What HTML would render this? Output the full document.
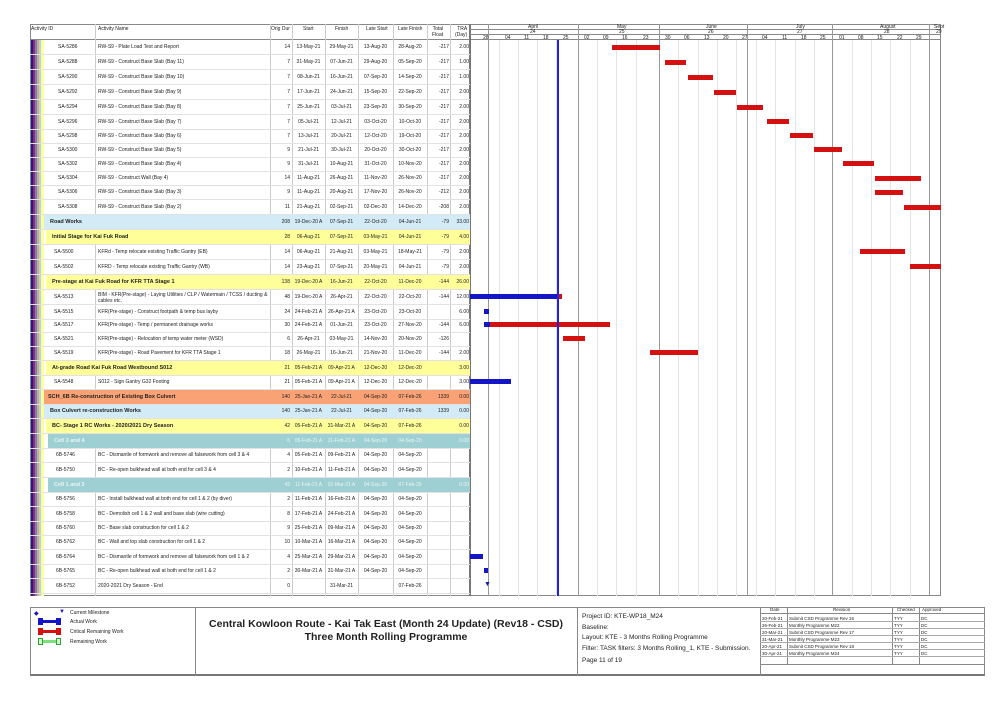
<!DOCTYPE html>
<html><head><meta charset="utf-8">
<style>
*{margin:0;padding:0;box-sizing:border-box}
body{width:1002px;height:709px;background:#fff;position:relative;overflow:hidden;font-family:"Liberation Sans",sans-serif;font-size:5px;color:#222}
.a{position:absolute}
.r{position:absolute;left:30px;width:440px;height:15px;border-bottom:1px solid #e2e2e2}
.r span{position:absolute;top:4px;white-space:nowrap}
.c0{left:28px}.c1{left:68px}
.c2{left:236px;width:24px;text-align:right}
.c3{left:262px;width:33px;text-align:center}
.c4{left:295px;width:33px;text-align:center}
.c5{left:328px;width:35px;text-align:center}
.c6{left:363px;width:34px;text-align:center}
.c7{left:397px;width:22px;text-align:right}
.c8{left:420px;width:19px;text-align:right}
.g .c0{left:20px;font-weight:bold;font-size:5.5px}
.vl{position:absolute;top:24px;height:572px;width:1px;background:#ccc}
.gl{position:absolute;top:40px;height:556px;width:1px;background:#e4e4e4}
.ml{position:absolute;top:24px;height:572px;width:1px;background:#999}
.bar{position:absolute;height:5px}
.red{background:#d41010}.blue{background:#1515c8}
.ft{position:absolute;white-space:nowrap}
</style></head><body>
<div class="a" style="left:30px;top:24px;width:911px;height:572px;border:1px solid #888"></div>
<div class="a" style="left:30px;top:39px;width:911px;height:1px;background:#888"></div>
<div class="ft" style="left:31px;top:26px">Activity ID</div>
<div class="ft" style="left:98px;top:26px">Activity Name</div>
<div class="ft" style="left:271px;top:26px">Orig Dur</div>
<div class="ft" style="left:303px;top:26px">Start</div>
<div class="ft" style="left:335px;top:26px">Finish</div>
<div class="ft" style="left:366px;top:26px">Late Start</div>
<div class="ft" style="left:398px;top:26px">Late Finish</div>
<div class="ft" style="left:432px;top:26px;text-align:right">Total<br>Float</div>
<div class="ft" style="left:455px;top:26px;text-align:right">TRA<br>(Day)</div>
<div class="vl" style="left:95px"></div><div class="vl" style="left:270px"></div><div class="vl" style="left:292px"></div><div class="vl" style="left:325px"></div><div class="vl" style="left:358px"></div><div class="vl" style="left:393px"></div><div class="vl" style="left:427px"></div><div class="vl" style="left:450px"></div>
<div class="a" style="left:469px;top:24px;width:2px;height:572px;background:#777"></div>
<div class="a" style="left:470px;top:29px;width:471px;height:1px;background:#888"></div>
<div class="a" style="left:470px;top:34px;width:471px;height:1px;background:#888"></div>
<div class="ft" style="left:528px;top:24px">April</div><div class="ft" style="left:530px;top:29px">24</div>
<div class="ft" style="left:617px;top:24px">May</div><div class="ft" style="left:619px;top:29px">25</div>
<div class="ft" style="left:706px;top:24px">June</div><div class="ft" style="left:708px;top:29px">26</div>
<div class="ft" style="left:796px;top:24px">July</div><div class="ft" style="left:797px;top:29px">27</div>
<div class="ft" style="left:880px;top:24px">August</div><div class="ft" style="left:884px;top:29px">28</div>
<div class="ft" style="left:934px;top:24px">Sept</div><div class="ft" style="left:936px;top:29px">29</div>
<div class="ml" style="left:488px"></div><div class="ml" style="left:578px"></div><div class="ml" style="left:659px"></div><div class="ml" style="left:747px"></div><div class="ml" style="left:832px"></div><div class="ml" style="left:929px"></div>
<div class="gl" style="left:499px"></div><div class="gl" style="left:518px"></div><div class="gl" style="left:537px"></div><div class="gl" style="left:556px"></div><div class="gl" style="left:597px"></div><div class="gl" style="left:616px"></div><div class="gl" style="left:636px"></div><div class="gl" style="left:678px"></div><div class="gl" style="left:698px"></div><div class="gl" style="left:717px"></div><div class="gl" style="left:736px"></div><div class="gl" style="left:756px"></div><div class="gl" style="left:775px"></div><div class="gl" style="left:795px"></div><div class="gl" style="left:814px"></div><div class="gl" style="left:852px"></div><div class="gl" style="left:871px"></div><div class="gl" style="left:890px"></div><div class="gl" style="left:910px"></div>
<div class="ft" style="left:483px;top:35px">28</div><div class="ft" style="left:505px;top:35px">04</div><div class="ft" style="left:524px;top:35px">11</div><div class="ft" style="left:543px;top:35px">18</div><div class="ft" style="left:563px;top:35px">25</div><div class="ft" style="left:584px;top:35px">02</div><div class="ft" style="left:603px;top:35px">09</div><div class="ft" style="left:622px;top:35px">16</div><div class="ft" style="left:643px;top:35px">23</div><div class="ft" style="left:665px;top:35px">30</div><div class="ft" style="left:684px;top:35px">06</div><div class="ft" style="left:704px;top:35px">13</div><div class="ft" style="left:723px;top:35px">20</div><div class="ft" style="left:742px;top:35px">27</div><div class="ft" style="left:762px;top:35px">04</div><div class="ft" style="left:782px;top:35px">11</div><div class="ft" style="left:801px;top:35px">18</div><div class="ft" style="left:820px;top:35px">25</div><div class="ft" style="left:839px;top:35px">01</div><div class="ft" style="left:858px;top:35px">08</div><div class="ft" style="left:877px;top:35px">15</div><div class="ft" style="left:897px;top:35px">22</div><div class="ft" style="left:916px;top:35px">29</div>

<div class="a" style="left:44px;top:215px;width:426px;height:15px;background:#d3ebf6"></div>
<div class="a" style="left:46px;top:230px;width:424px;height:15px;background:#ffff99"></div>
<div class="a" style="left:46px;top:275px;width:424px;height:15px;background:#ffff99"></div>
<div class="a" style="left:46px;top:361px;width:424px;height:14px;background:#ffff99"></div>
<div class="a" style="left:38px;top:390px;width:432px;height:14px;background:#f9a276"></div>
<div class="a" style="left:44px;top:404px;width:426px;height:14px;background:#d3ebf6"></div>
<div class="a" style="left:46px;top:419px;width:424px;height:14px;background:#ffff99"></div>
<div class="a" style="left:48px;top:434px;width:422px;height:14px;background:#9ecfd2"></div>
<div class="a" style="left:48px;top:478px;width:422px;height:14px;background:#9ecfd2"></div>
<div class="a" style="left:31px;top:40px;width:2px;height:556px;background:#1a1a9a"></div>
<div class="a" style="left:33px;top:40px;width:2px;height:556px;background:#b02050"></div>
<div class="a" style="left:35px;top:40px;width:2px;height:556px;background:#4a90e0"></div>
<div class="a" style="left:37px;top:40px;width:2px;height:556px;background:#f0a060"></div>
<div class="a" style="left:39px;top:40px;width:2px;height:556px;background:#a8d8ee"></div>
<div class="a" style="left:41px;top:40px;width:3px;height:556px;background:#ffff99"></div>

<div class="r" style="top:40px"><span class="c0">SA-5286</span><span class="c1">RW-S9 - Plate Load Test and Report</span><span class="c2">14</span><span class="c3">13-May-21</span><span class="c4">29-May-21</span><span class="c5">13-Aug-20</span><span class="c6">28-Aug-20</span><span class="c7">-217</span><span class="c8">2.00</span></div>
<div class="r" style="top:55px"><span class="c0">SA-5288</span><span class="c1">RW-S9 - Construct Base Slab (Bay 11)</span><span class="c2">7</span><span class="c3">31-May-21</span><span class="c4">07-Jun-21</span><span class="c5">29-Aug-20</span><span class="c6">05-Sep-20</span><span class="c7">-217</span><span class="c8">1.00</span></div>
<div class="r" style="top:70px"><span class="c0">SA-5290</span><span class="c1">RW-S9 - Construct Base Slab (Bay 10)</span><span class="c2">7</span><span class="c3">08-Jun-21</span><span class="c4">16-Jun-21</span><span class="c5">07-Sep-20</span><span class="c6">14-Sep-20</span><span class="c7">-217</span><span class="c8">1.00</span></div>
<div class="r" style="top:85px"><span class="c0">SA-5292</span><span class="c1">RW-S9 - Construct Base Slab (Bay 9)</span><span class="c2">7</span><span class="c3">17-Jun-21</span><span class="c4">24-Jun-21</span><span class="c5">15-Sep-20</span><span class="c6">22-Sep-20</span><span class="c7">-217</span><span class="c8">2.00</span></div>
<div class="r" style="top:100px"><span class="c0">SA-5294</span><span class="c1">RW-S9 - Construct Base Slab (Bay 8)</span><span class="c2">7</span><span class="c3">25-Jun-21</span><span class="c4">03-Jul-21</span><span class="c5">23-Sep-20</span><span class="c6">30-Sep-20</span><span class="c7">-217</span><span class="c8">2.00</span></div>
<div class="r" style="top:115px"><span class="c0">SA-5296</span><span class="c1">RW-S9 - Construct Base Slab (Bay 7)</span><span class="c2">7</span><span class="c3">05-Jul-21</span><span class="c4">12-Jul-21</span><span class="c5">03-Oct-20</span><span class="c6">10-Oct-20</span><span class="c7">-217</span><span class="c8">2.00</span></div>
<div class="r" style="top:129px"><span class="c0">SA-5298</span><span class="c1">RW-S9 - Construct Base Slab (Bay 6)</span><span class="c2">7</span><span class="c3">13-Jul-21</span><span class="c4">20-Jul-21</span><span class="c5">12-Oct-20</span><span class="c6">19-Oct-20</span><span class="c7">-217</span><span class="c8">2.00</span></div>
<div class="r" style="top:143px"><span class="c0">SA-5300</span><span class="c1">RW-S9 - Construct Base Slab (Bay 5)</span><span class="c2">9</span><span class="c3">21-Jul-21</span><span class="c4">30-Jul-21</span><span class="c5">20-Oct-20</span><span class="c6">30-Oct-20</span><span class="c7">-217</span><span class="c8">2.00</span></div>
<div class="r" style="top:157px"><span class="c0">SA-5302</span><span class="c1">RW-S9 - Construct Base Slab (Bay 4)</span><span class="c2">9</span><span class="c3">31-Jul-21</span><span class="c4">10-Aug-21</span><span class="c5">31-Oct-20</span><span class="c6">10-Nov-20</span><span class="c7">-217</span><span class="c8">2.00</span></div>
<div class="r" style="top:171px"><span class="c0">SA-5304</span><span class="c1">RW-S9 - Construct Wall (Bay 4)</span><span class="c2">14</span><span class="c3">11-Aug-21</span><span class="c4">26-Aug-21</span><span class="c5">11-Nov-20</span><span class="c6">26-Nov-20</span><span class="c7">-217</span><span class="c8">2.00</span></div>
<div class="r" style="top:185px"><span class="c0">SA-5306</span><span class="c1">RW-S9 - Construct Base Slab (Bay 3)</span><span class="c2">9</span><span class="c3">11-Aug-21</span><span class="c4">20-Aug-21</span><span class="c5">17-Nov-20</span><span class="c6">26-Nov-20</span><span class="c7">-212</span><span class="c8">2.00</span></div>
<div class="r" style="top:200px"><span class="c0">SA-5308</span><span class="c1">RW-S9 - Construct Base Slab (Bay 2)</span><span class="c2">11</span><span class="c3">21-Aug-21</span><span class="c4">02-Sep-21</span><span class="c5">02-Dec-20</span><span class="c6">14-Dec-20</span><span class="c7">-208</span><span class="c8">2.00</span></div>
<div class="r g" style="top:215px"><span class="c0">Road Works</span><span class="c2">208</span><span class="c3">19-Dec-20 A</span><span class="c4">07-Sep-21</span><span class="c5">22-Oct-20</span><span class="c6">04-Jun-21</span><span class="c7">-79</span><span class="c8">33.00</span></div>
<div class="r g" style="top:230px"><span class="c0" style="left:22px">Initial Stage for Kai Fuk Road</span><span class="c2">28</span><span class="c3">06-Aug-21</span><span class="c4">07-Sep-21</span><span class="c5">03-May-21</span><span class="c6">04-Jun-21</span><span class="c7">-79</span><span class="c8">4.00</span></div>
<div class="r" style="top:245px"><span class="c0" style="left:24px">SA-5500</span><span class="c1">KFRd - Temp relocate existing Traffic Gantry (EB)</span><span class="c2">14</span><span class="c3">06-Aug-21</span><span class="c4">21-Aug-21</span><span class="c5">03-May-21</span><span class="c6">18-May-21</span><span class="c7">-79</span><span class="c8">2.00</span></div>
<div class="r" style="top:260px"><span class="c0" style="left:24px">SA-5502</span><span class="c1">KFRD - Temp relocate existing Traffic Gantry (WB)</span><span class="c2">14</span><span class="c3">23-Aug-21</span><span class="c4">07-Sep-21</span><span class="c5">20-May-21</span><span class="c6">04-Jun-21</span><span class="c7">-79</span><span class="c8">2.00</span></div>
<div class="r g" style="top:275px"><span class="c0" style="left:22px">Pre-stage at Kai Fuk Road for KFR TTA Stage 1</span><span class="c2">138</span><span class="c3">19-Dec-20 A</span><span class="c4">16-Jun-21</span><span class="c5">22-Oct-20</span><span class="c6">11-Dec-20</span><span class="c7">-144</span><span class="c8">26.00</span></div>
<div class="r" style="top:290px"><span class="c0" style="left:24px">SA-5513</span><span class="c1" style="top:2px">BIM - KFR(Pre-stage) - Laying Utilities / CLP / Watermain / TCSS / ducting &amp;<br>cables etc.</span><span class="c2">48</span><span class="c3">19-Dec-20 A</span><span class="c4">26-Apr-21</span><span class="c5">22-Oct-20</span><span class="c6">22-Oct-20</span><span class="c7">-144</span><span class="c8">12.00</span></div>
<div class="r" style="top:305px"><span class="c0" style="left:24px">SA-5515</span><span class="c1">KFR(Pre-stage) - Construct footpath &amp; temp bus layby</span><span class="c2">24</span><span class="c3">24-Feb-21 A</span><span class="c4">26-Apr-21 A</span><span class="c5">23-Oct-20</span><span class="c6">23-Oct-20</span><span class="c8">6.00</span></div>
<div class="r" style="top:318px"><span class="c0" style="left:24px">SA-5517</span><span class="c1">KFR(Pre-stage) - Temp / permanent drainage works</span><span class="c2">30</span><span class="c3">24-Feb-21 A</span><span class="c4">01-Jun-21</span><span class="c5">23-Oct-20</span><span class="c6">27-Nov-20</span><span class="c7">-144</span><span class="c8">6.00</span></div>
<div class="r" style="top:332px"><span class="c0" style="left:24px">SA-5521</span><span class="c1">KFR(Pre-stage) - Relocation of temp water meter (WSD)</span><span class="c2">6</span><span class="c3">26-Apr-21</span><span class="c4">03-May-21</span><span class="c5">14-Nov-20</span><span class="c6">20-Nov-20</span><span class="c7">-126</span></div>
<div class="r" style="top:346px"><span class="c0" style="left:24px">SA-5519</span><span class="c1">KFR(Pre-stage) - Road Pavement for KFR TTA Stage 1</span><span class="c2">18</span><span class="c3">26-May-21</span><span class="c4">16-Jun-21</span><span class="c5">21-Nov-20</span><span class="c6">11-Dec-20</span><span class="c7">-144</span><span class="c8">2.00</span></div>
<div class="r g" style="top:361px"><span class="c0" style="left:22px">At-grade Road Kai Fuk Road Westbound S012</span><span class="c2">21</span><span class="c3">05-Feb-21 A</span><span class="c4">09-Apr-21 A</span><span class="c5">12-Dec-20</span><span class="c6">12-Dec-20</span><span class="c8">3.00</span></div>
<div class="r" style="top:375px"><span class="c0" style="left:24px">SA-5548</span><span class="c1">S012 - Sign Gantry G32 Footing</span><span class="c2">21</span><span class="c3">05-Feb-21 A</span><span class="c4">09-Apr-21 A</span><span class="c5">12-Dec-20</span><span class="c6">12-Dec-20</span><span class="c8">3.00</span></div>
<div class="r g" style="top:390px"><span class="c0" style="left:18px">SCH_6B Re-construction of Existing Box Culvert</span><span class="c2">140</span><span class="c3">25-Jan-21 A</span><span class="c4">22-Jul-21</span><span class="c5">04-Sep-20</span><span class="c6">07-Feb-26</span><span class="c7">1339</span><span class="c8">0.00</span></div>
<div class="r g" style="top:404px"><span class="c0">Box Culvert re-construction Works</span><span class="c2">140</span><span class="c3">25-Jan-21 A</span><span class="c4">22-Jul-21</span><span class="c5">04-Sep-20</span><span class="c6">07-Feb-26</span><span class="c7">1339</span><span class="c8">0.00</span></div>
<div class="r g" style="top:419px"><span class="c0" style="left:22px">BC- Stage 1 RC Works - 2020/2021 Dry Season</span><span class="c2">42</span><span class="c3">05-Feb-21 A</span><span class="c4">31-Mar-21 A</span><span class="c5">04-Sep-20</span><span class="c6">07-Feb-26</span><span class="c8">0.00</span></div>
<div class="r g" style="top:434px;color:#eaf6f6"><span class="c0" style="left:24px">Cell 3 and 4</span><span class="c2">6</span><span class="c3">05-Feb-21 A</span><span class="c4">11-Feb-21 A</span><span class="c5">04-Sep-20</span><span class="c6">04-Sep-20</span><span class="c8">0.00</span></div>
<div class="r" style="top:448px"><span class="c0" style="left:26px">6B-5746</span><span class="c1">BC - Dismantle of formwork and remove all falsework from cell 3 &amp; 4</span><span class="c2">4</span><span class="c3">05-Feb-21 A</span><span class="c4">09-Feb-21 A</span><span class="c5">04-Sep-20</span><span class="c6">04-Sep-20</span></div>
<div class="r" style="top:463px"><span class="c0" style="left:26px">6B-5750</span><span class="c1">BC - Re-open bulkhead wall at both end for cell 3 &amp; 4</span><span class="c2">2</span><span class="c3">10-Feb-21 A</span><span class="c4">11-Feb-21 A</span><span class="c5">04-Sep-20</span><span class="c6">04-Sep-20</span></div>
<div class="r g" style="top:478px;color:#eaf6f6"><span class="c0" style="left:24px">Cell 1 and 2</span><span class="c2">42</span><span class="c3">11-Feb-21 A</span><span class="c4">31-Mar-21 A</span><span class="c5">04-Sep-20</span><span class="c6">07-Feb-26</span><span class="c8">0.00</span></div>
<div class="r" style="top:492px"><span class="c0" style="left:26px">6B-5756</span><span class="c1">BC - Install bulkhead wall at both end for cell 1 &amp; 2 (by diver)</span><span class="c2">2</span><span class="c3">11-Feb-21 A</span><span class="c4">16-Feb-21 A</span><span class="c5">04-Sep-20</span><span class="c6">04-Sep-20</span></div>
<div class="r" style="top:507px"><span class="c0" style="left:26px">6B-5758</span><span class="c1">BC - Demolish cell 1 &amp; 2 wall and base slab (wire cutting)</span><span class="c2">8</span><span class="c3">17-Feb-21 A</span><span class="c4">24-Feb-21 A</span><span class="c5">04-Sep-20</span><span class="c6">04-Sep-20</span></div>
<div class="r" style="top:521px"><span class="c0" style="left:26px">6B-5760</span><span class="c1">BC - Base slab construction for cell 1 &amp; 2</span><span class="c2">9</span><span class="c3">25-Feb-21 A</span><span class="c4">09-Mar-21 A</span><span class="c5">04-Sep-20</span><span class="c6">04-Sep-20</span></div>
<div class="r" style="top:535px"><span class="c0" style="left:26px">6B-5762</span><span class="c1">BC - Wall and top slab construction for cell 1 &amp; 2</span><span class="c2">10</span><span class="c3">10-Mar-21 A</span><span class="c4">16-Mar-21 A</span><span class="c5">04-Sep-20</span><span class="c6">04-Sep-20</span></div>
<div class="r" style="top:550px"><span class="c0" style="left:26px">6B-5764</span><span class="c1">BC - Dismantle of formwork and remove all falsework from cell 1 &amp; 2</span><span class="c2">4</span><span class="c3">25-Mar-21 A</span><span class="c4">29-Mar-21 A</span><span class="c5">04-Sep-20</span><span class="c6">04-Sep-20</span></div>
<div class="r" style="top:564px"><span class="c0" style="left:26px">6B-5765</span><span class="c1">BC - Re-open bulkhead wall at both end for cell 1 &amp; 2</span><span class="c2">2</span><span class="c3">30-Mar-21 A</span><span class="c4">31-Mar-21 A</span><span class="c5">04-Sep-20</span><span class="c6">04-Sep-20</span></div>
<div class="r" style="top:579px"><span class="c0" style="left:26px">6B-5752</span><span class="c1">2020-2021 Dry Season - End</span><span class="c2">0</span><span class="c4">31-Mar-21</span><span class="c6">07-Feb-26</span></div>

<div class="bar red" style="left:612px;top:45px;width:48px"></div>
<div class="bar red" style="left:665px;top:60px;width:21px"></div>
<div class="bar red" style="left:688px;top:75px;width:25px"></div>
<div class="bar red" style="left:714px;top:90px;width:22px"></div>
<div class="bar red" style="left:737px;top:105px;width:26px"></div>
<div class="bar red" style="left:767px;top:119px;width:22px"></div>
<div class="bar red" style="left:790px;top:133px;width:23px"></div>
<div class="bar red" style="left:814px;top:147px;width:28px"></div>
<div class="bar red" style="left:843px;top:161px;width:31px"></div>
<div class="bar red" style="left:875px;top:176px;width:46px"></div>
<div class="bar red" style="left:875px;top:190px;width:28px"></div>
<div class="bar red" style="left:904px;top:205px;width:37px"></div>
<div class="bar red" style="left:860px;top:249px;width:45px"></div>
<div class="bar red" style="left:910px;top:264px;width:31px"></div>
<div class="bar blue" style="left:470px;top:294px;width:88px"></div>
<div class="bar red" style="left:558px;top:294px;width:4px"></div>
<div class="bar blue" style="left:484px;top:309px;width:5px"></div>
<div class="bar blue" style="left:484px;top:322px;width:6px"></div>
<div class="bar red" style="left:490px;top:322px;width:120px"></div>
<div class="bar red" style="left:563px;top:336px;width:22px"></div>
<div class="bar red" style="left:650px;top:350px;width:48px"></div>
<div class="bar blue" style="left:470px;top:379px;width:41px"></div>
<div class="bar blue" style="left:470px;top:554px;width:13px"></div>
<div class="bar blue" style="left:484px;top:568px;width:4px"></div>
<div class="ft" style="left:484px;top:581px;color:#1515c8;font-size:7px">▼</div>
<div class="a" style="left:557px;top:40px;width:2px;height:556px;background:#2222e0"></div>

<div class="a" style="left:30px;top:607px;width:955px;height:69px;border:1px solid #888;border-bottom:2px solid #777"></div>
<div class="a" style="left:195px;top:607px;width:1px;height:69px;background:#888"></div>
<div class="a" style="left:577px;top:607px;width:1px;height:69px;background:#888"></div>
<div class="a" style="left:760px;top:607px;width:1px;height:69px;background:#888"></div>
<div class="ft" style="left:34px;top:610px;color:#1515c8;font-size:6px">◆</div>
<div class="ft" style="left:59px;top:609px;color:#1515c8;font-size:6px">▼</div>
<div class="ft" style="left:70px;top:610px">Current Milestone</div>
<div class="a" style="left:38px;top:620px;width:22px;height:3px;background:#1515c8"></div><div class="a" style="left:38px;top:618px;width:5px;height:7px;background:#1515c8"></div><div class="a" style="left:56px;top:618px;width:5px;height:7px;background:#1515c8"></div>
<div class="ft" style="left:70px;top:619px">Actual Work</div>
<div class="a" style="left:38px;top:630px;width:22px;height:3px;background:#d41010"></div><div class="a" style="left:38px;top:628px;width:5px;height:7px;background:#d41010"></div><div class="a" style="left:56px;top:628px;width:5px;height:7px;background:#d41010"></div>
<div class="ft" style="left:70px;top:629px">Critical Remaining Work</div>
<div class="a" style="left:38px;top:640px;width:22px;height:3px;background:#7ce07c"></div><div class="a" style="left:38px;top:638px;width:5px;height:7px;border:1px solid #30a030;background:#cfc"></div><div class="a" style="left:56px;top:638px;width:5px;height:7px;border:1px solid #30a030;background:#cfc"></div>
<div class="ft" style="left:70px;top:639px">Remaining Work</div>
<div class="ft" style="left:195px;width:382px;top:618px;text-align:center;font-weight:bold;font-size:10.5px;line-height:13px;font-family:'Liberation Sans Narrow','Liberation Sans',sans-serif">Central Kowloon Route - Kai Tak East (Month 24 Update) (Rev18 - CSD)<br>Three Month Rolling Programme</div>
<div class="ft" style="left:582px;top:612px;font-size:6.5px;line-height:10.5px">Project ID: KTE-WP18_M24<br>Baseline:<br>Layout: KTE - 3 Months Rolling Programme<br>Filter: TASK filters: 3 Months Rolling_1, KTE - Submission.</div>
<div class="ft" style="left:582px;top:657px;font-size:6.5px">Page 11 of 19</div>
<div class="a" style="left:787px;top:607px;width:1px;height:57px;background:#888"></div>
<div class="a" style="left:892px;top:607px;width:1px;height:57px;background:#888"></div>
<div class="a" style="left:919px;top:607px;width:1px;height:57px;background:#888"></div>
<div class="a" style="left:760px;top:613px;width:225px;height:1px;background:#888"></div>
<div class="a" style="left:760px;top:621px;width:225px;height:1px;background:#aaa"></div>
<div class="a" style="left:760px;top:628px;width:225px;height:1px;background:#aaa"></div>
<div class="a" style="left:760px;top:635px;width:225px;height:1px;background:#aaa"></div>
<div class="a" style="left:760px;top:642px;width:225px;height:1px;background:#aaa"></div>
<div class="a" style="left:760px;top:649px;width:225px;height:1px;background:#aaa"></div>
<div class="a" style="left:760px;top:656px;width:225px;height:1px;background:#aaa"></div>
<div class="a" style="left:760px;top:664px;width:225px;height:1px;background:#888"></div>
<div class="ft" style="left:770px;top:607px;font-size:4.5px">Date</div><div class="ft" style="left:833px;top:607px;font-size:4.5px">Revision</div><div class="ft" style="left:897px;top:607px;font-size:4.5px">Checked</div><div class="ft" style="left:922px;top:607px;font-size:4.5px">Approved</div>
<div class="ft" style="left:762px;top:615px;font-size:4.5px;line-height:7px">20-Feb-21<br>26-Feb-21<br>20-Mar-21<br>31-Mar-21<br>20-Apr-21<br>30-Apr-21</div>
<div class="ft" style="left:789px;top:615px;font-size:4.5px;line-height:7px">Submit CSD Programme Rev 16<br>Monthly Programme M22<br>Submit CSD Programme Rev 17<br>Monthly Programme M23<br>Submit CSD Programme Rev 18<br>Monthly Programme M24</div>
<div class="ft" style="left:894px;top:615px;font-size:4.5px;line-height:7px">TYY<br>TYY<br>TYY<br>TYY<br>TYY<br>TYY</div>
<div class="ft" style="left:921px;top:615px;font-size:4.5px;line-height:7px">DC<br>DC<br>DC<br>DC<br>DC<br>DC</div>
</body></html>
